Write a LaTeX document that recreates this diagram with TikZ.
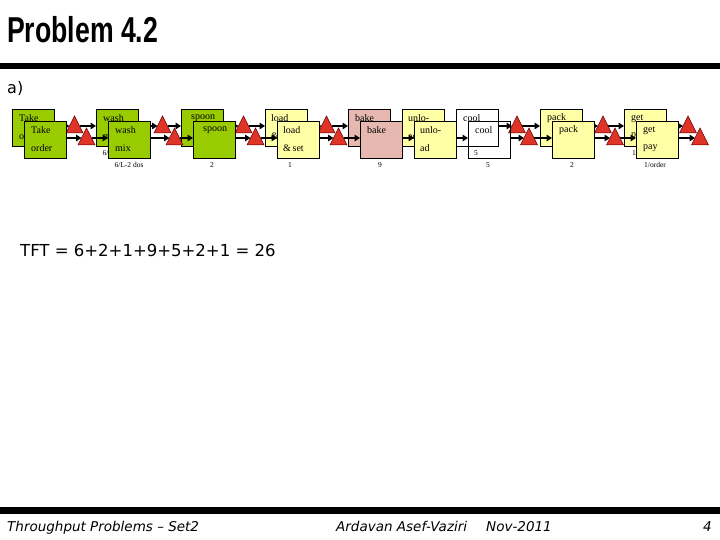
\documentclass[tikz,border=0pt]{standalone}
\usepackage{graphicx}
\usepackage{fontspec}
\setmainfont{Liberation Serif}
\newfontfamily\titlefont{Liberation Sans}
\newfontfamily\djsans{DejaVu Sans}
\usetikzlibrary{arrows.meta}

\definecolor{greenbox}{HTML}{99CC00}
\definecolor{yellowbox}{HTML}{FFFFA6}
\definecolor{pinkbox}{HTML}{E6B8B0}
\definecolor{trired}{HTML}{E03428}

\tikzset{
  box/.style={draw=black, line width=0.8pt, minimum width=41.5pt, minimum height=37pt, anchor=north west, inner sep=0pt},
  boxtext/.style={font=\fontsize{10}{12}\selectfont, anchor=west, inner sep=0pt},
  lbl/.style={font=\fontsize{7.5}{9}\selectfont, inner sep=0pt},
  tri/.style={draw=black!60!red, fill=trired, line width=0.5pt},
  arr/.style={line width=1.8pt, -{Triangle[length=5.5pt,width=6.5pt]}},
}

\newcommand\tline[3]{% prefix, name, text
  \node[boxtext] (#1#2A) at ([xshift=7pt,yshift=-9.5pt]#1#2.north west) {#3};}
\newcommand\bline[3]{%
  \node[boxtext] (#1#2B) at ([xshift=7pt,yshift=-27pt]#1#2.north west) {#3};}
\newcommand\trishape[1]{%
  \draw[tri] ([xshift=-8.5pt,yshift=-7pt]#1) -- ([yshift=10pt]#1) -- ([xshift=8.5pt,yshift=-7pt]#1) -- cycle;}

\newcommand\flowcopy[1]{%
  % boxes
  \node[box, fill=greenbox]  (#1take)   at (24,121)  {};
  \node[box, fill=greenbox]  (#1wash)   at (108,121) {};
  \node[box, fill=greenbox]  (#1spoon)  at (193,121) {};
  \node[box, fill=yellowbox] (#1load)   at (277,121) {};
  \node[box, fill=pinkbox]   (#1bake)   at (360,121) {};
  \node[box, fill=yellowbox] (#1unload) at (414,121) {};
  \node[box]                 (#1cool)   at (468,121) {};
  \node[box, fill=yellowbox] (#1pack)   at (552,121) {};
  \node[box, fill=yellowbox] (#1get)    at (636,121) {};
  % triangle centres
  \coordinate (#1t1) at (86.5,138);
  \coordinate (#1t2) at (174.5,138);
  \coordinate (#1t3) at (255.5,138);
  \coordinate (#1t4) at (338.5,138);
  \coordinate (#1t5) at (529,138);
  \coordinate (#1t6) at (615,138);
  \coordinate (#1t7) at (700,138);
  % arrows
  \draw[arr] (#1take.east |- #1t1) -- ([xshift=-5pt]#1t1);
  \draw[arr] ([xshift=5pt]#1t1) -- (#1wash.west |- #1t1);
  \draw[arr] (#1wash.east |- #1t2) -- ([xshift=-5pt]#1t2);
  \draw[arr] ([xshift=5pt]#1t2) -- (#1spoon.west |- #1t2);
  \draw[arr] (#1spoon.east |- #1t3) -- ([xshift=-5pt]#1t3);
  \draw[arr] ([xshift=5pt]#1t3) -- (#1load.west |- #1t3);
  \draw[arr] (#1load.east |- #1t4) -- ([xshift=-5pt]#1t4);
  \draw[arr] ([xshift=5pt]#1t4) -- (#1bake.west |- #1t4);
  \draw[arr] (#1bake.east |- #1t4) -- (#1unload.west |- #1t4);
  \draw[arr] (#1unload.east |- #1t4) -- (#1cool.west |- #1t4);
  \draw[arr] (#1cool.east |- #1t5) -- ([xshift=-5pt]#1t5);
  \draw[arr] ([xshift=5pt]#1t5) -- (#1pack.west |- #1t5);
  \draw[arr] (#1pack.east |- #1t6) -- ([xshift=-5pt]#1t6);
  \draw[arr] ([xshift=5pt]#1t6) -- (#1get.west |- #1t6);
  \draw[arr] (#1get.east |- #1t7) -- ([xshift=-5pt]#1t7);
  % triangles
  \trishape{#1t1}\trishape{#1t2}\trishape{#1t3}\trishape{#1t4}
  \trishape{#1t5}\trishape{#1t6}\trishape{#1t7}
  % texts
  \tline{#1}{take}{Take}\bline{#1}{take}{order}
  \tline{#1}{wash}{wash}\bline{#1}{wash}{mix}
  \node[boxtext] (#1spoonA) at ([xshift=10pt,yshift=-9.5pt]#1spoon.north west) {spoon};
  \node[boxtext] (#1loadA) at ([xshift=6pt,yshift=-9.5pt]#1load.north west) {load};
  \node[boxtext] (#1loadB) at ([xshift=6pt,yshift=-27pt]#1load.north west) {\&\,set};
  \tline{#1}{bake}{bake}
  \node[boxtext] (#1unloadA) at ([xshift=6pt,yshift=-9.5pt]#1unload.north west) {unlo-};
  \node[boxtext] (#1unloadB) at ([xshift=6pt,yshift=-27pt]#1unload.north west) {ad};
  \tline{#1}{cool}{cool}
  \tline{#1}{pack}{pack}
  \tline{#1}{get}{get}\bline{#1}{get}{pay}
  % labels below
  \node[lbl] (#1washL)  at (129,165) {6/L-2 dos};
  \node[lbl] (#1spoonL) at (212,165) {2};
  \node[lbl] (#1loadL)  at (290,165) {1};
  \node[lbl] (#1bakeL)  at (380,165) {9};
  \node[lbl] (#1coolL)  at (488,165) {5};
  \node[lbl] (#1packL)  at (572,165) {2};
  \node[lbl] (#1getL)   at (655,165) {1/order};
}

\begin{document}
\begin{tikzpicture}[x=1pt,y=-1pt]
\useasboundingbox (0,0) rectangle (720,540);
\fill[white] (0,0) rectangle (720,540);

% title
\node[anchor=base west, inner sep=0pt] (title) at (7,43)
  {\titlefont\bfseries\fontsize{36}{40}\selectfont\scalebox{0.74}[1]{Problem 4.2}};
\fill[black] (0,63) rectangle (720,69.5);
\node[anchor=base west, inner sep=0pt, font=\djsans\fontsize{16}{18}\selectfont] (parta) at (7,94) {a)};

% back copy
\begin{scope}[shift={(-12,-12)}]
\flowcopy{b}
\end{scope}
% front copy
\flowcopy{f}

% total flow time
\node[anchor=base west, inner sep=0pt, font=\djsans\fontsize{16.5}{19}\selectfont] (tft) at (20,256)
  {TFT = 6+2+1+9+5+2+1 = 26};

% footer
\fill[black] (0,507) rectangle (720,514);
\node[anchor=base west, inner sep=0pt, font=\djsans\itshape\fontsize{13.5}{16}\selectfont] (foot1) at (7,531) {Throughput Problems \textendash{} Set2};
\node[anchor=base west, inner sep=0pt, font=\djsans\itshape\fontsize{13.5}{16}\selectfont] (foot2) at (336,531) {Ardavan Asef-Vaziri};
\node[anchor=base west, inner sep=0pt, font=\djsans\itshape\fontsize{13.5}{16}\selectfont] (foot3) at (486,531) {Nov-2011};
\node[anchor=base east, inner sep=0pt, font=\djsans\itshape\fontsize{13.5}{16}\selectfont] (foot4) at (712,531) {4};
\end{tikzpicture}
\end{document}
